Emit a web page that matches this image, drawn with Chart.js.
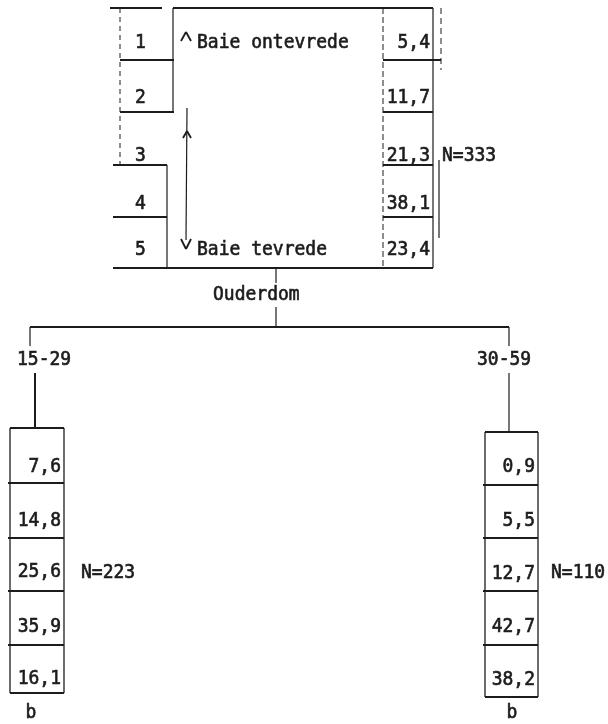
<!DOCTYPE html>
<html>
<head>
<meta charset="utf-8">
<script src="https://cdn.jsdelivr.net/npm/chart.js@4.4.1/dist/chart.umd.min.js"></script>
<style>
  html, body { margin: 0; background: #fff; }
  #wrap { width: 608px; height: 724px; }
</style>
</head>
<body>
<div id="wrap"><canvas id="tree"></canvas></div>
<script>
// data
const categories = ['1', '2', '3', '4', '5'];
const allPct = [5.4, 11.7, 21.3, 38.1, 23.4];
const youngPct = [7.6, 14.8, 25.6, 35.9, 16.1];
const olderPct = [0.9, 5.5, 12.7, 42.7, 38.2];
const groupLabels = ['15-29', '30-59'];
const nValues = [333, 223, 110];
const splitVar = 'Ouderdom';
const scaleEnds = ['Baie ontevrede', 'Baie tevrede'];
const footNote = 'b';
// data

// layout (page units, mapped through the hidden scales)
const ink = '#1c1c1c';
const FONT = '18px "DejaVu Sans Mono", monospace';
const root = {
    catL: 113, catR: 170, valL: 383, valR: 433,
    rows: [8, 60, 112, 165, 217, 268],
    textY: [43, 98, 156, 204, 250]
};
const leaves = [
    { l: 10, r: 64, rows: [428, 483, 538, 591, 645, 693], textY: [467, 521, 572, 627, 679],
      branchX: 30, stemX: 35, labelX: 17, nX: 81, bX: 31, values: youngPct, n: nValues[1], label: groupLabels[0] },
    { l: 485, r: 538, rows: [432, 485, 538, 591, 645, 697], textY: [467, 521, 574, 627, 680],
      branchX: 509, stemX: 509, labelX: 477, nX: 551, bX: 512, values: olderPct, n: nValues[2], label: groupLabels[1] }
];

const fmt = v => v.toFixed(1).replace('.', ',');

const treePlugin = {
    id: 'treePlugin',
    afterDraw(chart) {
        const ctx = chart.ctx;
        const xs = chart.scales.x, ys = chart.scales.y;
        const px = v => xs.getPixelForValue(v);
        const py = v => ys.getPixelForValue(v);

        function line(x1, y1, x2, y2, w, dash) {
            ctx.save();
            ctx.strokeStyle = ink;
            ctx.lineWidth = w || 2;
            ctx.setLineDash(dash || []);
            ctx.beginPath();
            ctx.moveTo(px(x1), py(y1));
            ctx.lineTo(px(x2), py(y2));
            ctx.stroke();
            ctx.restore();
        }
        // typewriter-ish text: a touch taller and heavier than plain DejaVu Mono
        function text(s, x, y, align) {
            ctx.save();
            ctx.fillStyle = ink;
            ctx.strokeStyle = ink;
            ctx.lineWidth = 0.6;
            ctx.font = FONT;
            ctx.textAlign = align || 'left';
            ctx.textBaseline = 'middle';
            ctx.translate(px(x), py(y));
            ctx.scale(1, 1.1);
            ctx.fillText(s, 0, 0);
            ctx.strokeText(s, 0, 0);
            ctx.restore();
        }

        // root node
        const r = root;
        line(110, r.rows[0], 162, r.rows[0], 2);
        line(r.catR + 3, r.rows[0], r.valR, r.rows[0], 2);
        for (let i = 1; i < 5; i++) {
            line(r.catL + (i < 3 ? 7 : 0), r.rows[i], r.catR + (i < 3 ? 4 : -3), r.rows[i], 2);
            line(r.valL, r.rows[i], r.valR + (i === 1 ? 8 : 0), r.rows[i], 2);
        }
        line(r.catL, r.rows[5], r.valR, r.rows[5], 2);
        line(120, r.rows[0], 120, r.rows[3], 1, [5, 4]);
        line(r.catR + 3, r.rows[0], r.catR + 3, r.rows[2], 1.2);
        line(r.catR - 3, r.rows[3], r.catR - 3, r.rows[5], 1.2);
        line(r.valL, r.rows[0], r.valL, r.rows[5], 1, [6, 3]);
        line(r.valR, r.rows[0], r.valR, r.rows[5], 1.2);
        line(r.valR + 8, r.rows[0], r.valR + 8, r.rows[1] + 10, 1, [6, 4]);
        line(r.valR + 6, r.rows[3] - 5, r.valR + 6, r.rows[5] - 30, 1.2);

        categories.forEach((c, i) => text(c, (r.catL + r.catR) / 2 - 1, r.textY[i], 'center'));
        allPct.forEach((v, i) => text(fmt(v), r.valR - 3, r.textY[i], 'right'));
        text('N=' + nValues[0], 442, 156);

        // scale direction arrow
        text(scaleEnds[0], 197, r.textY[0]);
        text(scaleEnds[1], 197, r.textY[4]);
        line(181, 41, 186, 32, 1.8); line(186, 32, 191, 41, 1.8);
        line(181, 239, 186, 249, 1.8); line(186, 249, 191, 239, 1.8);
        line(187, 108, 186, 240, 1.2);
        line(183, 138, 187, 131, 1.8); line(187, 131, 191, 138, 1.8);

        // split
        line(276, r.rows[5], 276, 283, 1.2);
        text(splitVar, 213, 295);
        line(276, 307, 276, 327, 1.2);
        line(leaves[0].branchX, 327, leaves[1].branchX, 327, 2);

        // leaf nodes
        leaves.forEach(lf => {
            line(lf.branchX, 327, lf.branchX, 346, 1.2);
            text(lf.label, lf.labelX, 360);
            line(lf.stemX, 373, lf.stemX, lf.rows[0], lf === leaves[0] ? 2 : 1.2);
            line(lf.l, lf.rows[0], lf.r, lf.rows[0], 2);
            for (let i = 1; i < 5; i++) line(lf.l - 2, lf.rows[i], lf.r, lf.rows[i], 2);
            line(lf.l, lf.rows[5], lf.r, lf.rows[5], 2);
            line(lf.l, lf.rows[0], lf.l, lf.rows[5], 1.3);
            line(lf.r, lf.rows[0], lf.r, lf.rows[5], 1.3);
            lf.values.forEach((v, i) => text(fmt(v), lf.r - 3, lf.textY[i], 'right'));
            text('N=' + lf.n, lf.nX, 573);
            text(footNote, lf.bX, 713, 'center');
        });
    }
};

new Chart(document.getElementById('tree'), {
    type: 'scatter',
    data: { datasets: [] },
    options: {
        responsive: true,
        maintainAspectRatio: false,
        animation: false,
        layout: { padding: 0 },
        plugins: { legend: { display: false }, tooltip: { enabled: false } },
        scales: {
            x: { type: 'linear', min: 0, max: 608, display: false },
            y: { type: 'linear', min: 0, max: 724, reverse: true, display: false }
        }
    },
    plugins: [treePlugin]
});
</script>
</body>
</html>
